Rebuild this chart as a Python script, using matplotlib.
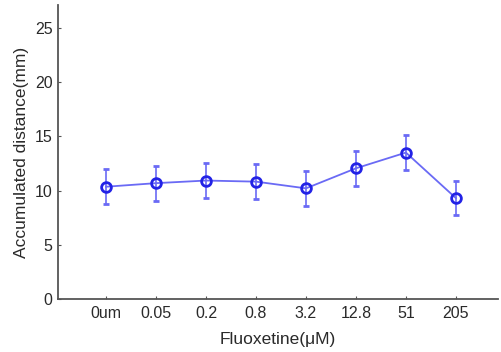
import numpy as np
import matplotlib
matplotlib.use("Agg")
import matplotlib.pyplot as plt

plt.rcParams['font.family'] = ['Liberation Sans', 'DejaVu Sans']

# data
doses = ['0um', '0.05', '0.2', '0.8', '3.2', '12.8', '51', '205']
means = [10.35, 10.68, 10.92, 10.82, 10.2, 12.05, 13.5, 9.3]
errs = [1.6, 1.6, 1.6, 1.6, 1.6, 1.6, 1.6, 1.6]

fig = plt.figure(figsize=(5.01, 3.52), dpi=100)
ax = fig.add_axes([0.1158, 0.1506, 0.878, 0.835])

x = np.arange(len(doses))
ax.errorbar(x, means, yerr=errs, color='#6a6af5', lw=1.3, elinewidth=1.2,
            capsize=2, capthick=1.2, marker='o', markersize=7,
            markerfacecolor='none', markeredgecolor='#2222e6', markeredgewidth=2)

ax.set_xlim(-0.96, 7.84)
ax.set_ylim(0, 27.1)
ax.set_yticks([0, 5, 10, 15, 20, 25])
ax.set_xticks(x)
ax.set_xticklabels(doses)
ax.tick_params(direction='in', length=2.5, labelsize=11.5, colors='#555555',
               labelcolor='#2a2a2a')
ax.tick_params(axis='x', pad=5)
ax.tick_params(axis='y', pad=4)
for s in ['top', 'right']:
    ax.spines[s].set_visible(False)
for s in ['left', 'bottom']:
    ax.spines[s].set_color('#555555')
    ax.spines[s].set_linewidth(1.3)

ax.set_ylabel('Accumulated distance(mm)', fontsize=12.5, color='#2a2a2a', labelpad=4)
ax.set_xlabel('Fluoxetine(\u03bcM)', fontsize=12.5, color='#2a2a2a', labelpad=8)

fig.savefig('out.png', dpi=100)
